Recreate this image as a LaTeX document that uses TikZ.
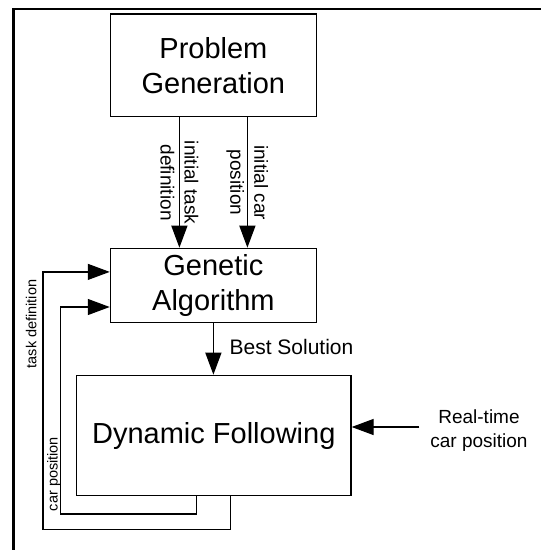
\documentclass[tikz,border=0pt]{standalone}
\usepackage{fontspec}
\setmainfont{Liberation Sans}
\usetikzlibrary{arrows.meta}
\begin{document}
\begin{tikzpicture}[x=1pt,y=-1pt,
  box/.style={draw, line width=1.3pt, inner sep=0pt, align=center},
  big/.style={font=\fontsize{29}{35}\selectfont},
  mid/.style={font=\fontsize{19}{24}\selectfont, align=center, inner sep=0pt},
  small/.style={font=\fontsize{14.5}{17}\selectfont, inner sep=0pt},
  arr/.style={line width=1.3pt, -{Triangle[length=22pt,width=16pt]}},
]
\useasboundingbox (0,0) rectangle (541,550);
\draw[line width=2.2pt] (13.5,550) -- (13.5,9) -- (541,9);

\node[box, big, minimum width=206pt, minimum height=102.8pt] (PG) at (213.4,65.4) {Problem\\Generation};
\node[box, big, minimum width=206pt, minimum height=74.3pt] (GA) at (213.4,285.5) {Genetic\\Algorithm};
\node[box, big, minimum width=274.4pt, minimum height=120.3pt] (DF) at (213.8,435.5) {Dynamic Following};

% arrows from Problem Generation
\draw[arr] ([xshift=-34pt]PG.south) -- ([xshift=-34pt]GA.north)
  node[midway, mid, rotate=-90] (l1) {initial task\\definition};
\draw[arr] ([xshift=34pt]PG.south) -- ([xshift=34pt]GA.north)
  node[midway, mid, rotate=-90] (l2) {initial car\\position};

% best solution
\draw[arr] (GA.south) -- (GA.south |- DF.north);
\node[anchor=west, font=\fontsize{21}{25}\selectfont, inner sep=0pt] (bs) at (229.4,347) {Best Solution};

% real-time input
\coordinate (rt) at (419.3,427);
\draw[arr] (rt) -- (rt -| DF.east);
\node[mid] (rtl) at (479,430.8) {Real-time\\car position};

% feedback: task definition
\coordinate (tdb) at (230.5,529.5);
\coordinate (tdl) at (43.1,271.9);
\draw[arr] (DF.south -| tdb) -- (tdb) -| (tdl) -- (tdl -| GA.west);
\node[small, rotate=90] (tdlab) at (31.3,324) {task definition};

% feedback: car position
\coordinate (cpb) at (196.7,514);
\coordinate (cpl) at (60.4,307);
\draw[arr] (DF.south -| cpb) -- (cpb) -| (cpl) -- (cpl -| GA.west);
\node[small, rotate=90] (cplab) at (54,474) {car position};
\end{tikzpicture}
\end{document}
